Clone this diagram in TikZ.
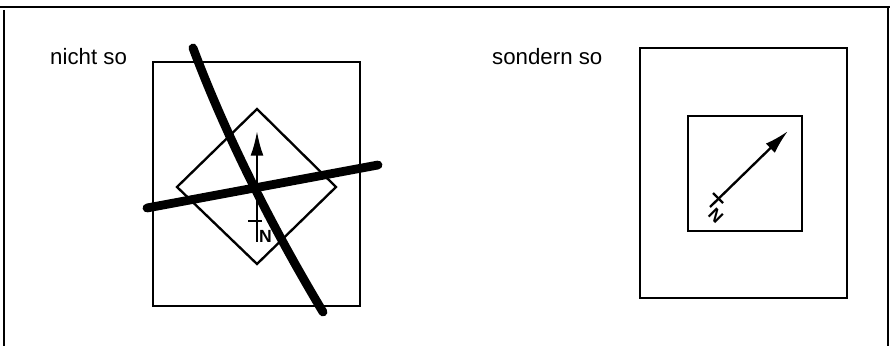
\documentclass[tikz,border=0pt]{standalone}
\usepackage{fontspec}
\setmainfont{Liberation Sans}
\usetikzlibrary{arrows.meta}
\tikzset{
  frameline/.style={line width=1.1pt},
  boxline/.style={line width=2pt},
  crossline/.style={line width=7.5pt,line cap=round},
  northarrow/.style={line width=2pt,-{Latex[length=21pt,width=11pt]}},
  caption/.style={font=\fontsize{19}{22}\selectfont,inner sep=0pt,anchor=base west},
  nlabel/.style={font=\bfseries\fontsize{15}{15}\selectfont,inner sep=0pt}
}

\begin{document}
\begin{tikzpicture}[x=0.03cm,y=-0.03cm]
  \useasboundingbox (0,0) rectangle (890,346);
  \draw[frameline] (0,7) -- (890,7);
  \draw[frameline] (4,10) -- (4,346);
  \draw[frameline] (888,7) -- (888,346);

  \node[caption] (nichtso) at (50,65) {nicht so};
  \node[caption] (sondernso) at (492,65) {sondern so};

  % falsch
  \draw[boxline] (153,62) rectangle (360,306);
  \draw[boxline] (257,109) -- (336,187) -- (257,264) -- (177,187) -- cycle;
  \coordinate (ltail) at (257,242);
  \coordinate (ltip) at (257,131);
  \draw[northarrow] (ltail) -- (ltip);
  \draw[line width=2pt] (248,221) -- (262,221);
  \node[nlabel,anchor=base west] (ln) at (259,243) {N};
  \draw[crossline] (193,48) .. controls (226,136) and (272,227) .. (323,312);
  \draw[crossline] (147,208) -- (378,165);

  % richtig
  \draw[boxline] (640,48) rectangle (847,298);
  \draw[boxline] (688,116) rectangle (802,231);
  \coordinate (rtail) at (710,207);
  \coordinate (rtip) at (788,131);
  \draw[northarrow] (rtail) -- (rtip);
  \draw[line width=2pt] (713,193) -- (723,203);
  \node[nlabel,rotate=-45] (rn) at (716,216) {N};
\end{tikzpicture}
\end{document}
